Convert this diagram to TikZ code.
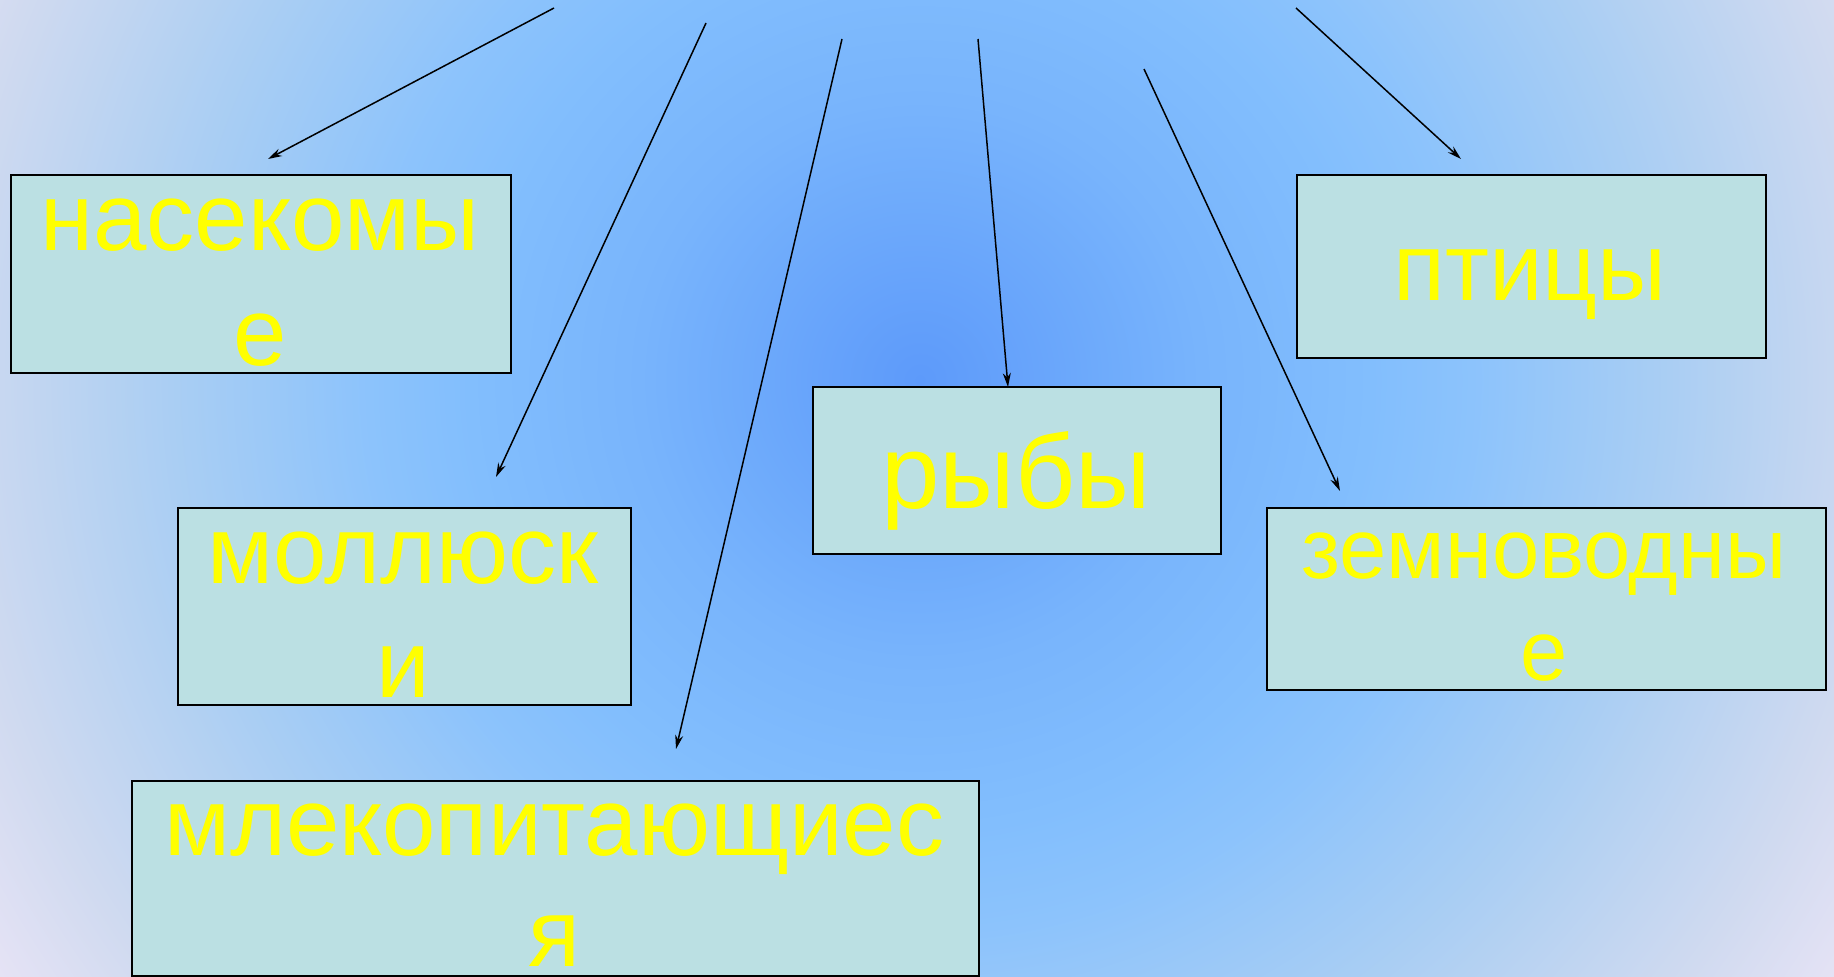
\documentclass[tikz,border=0pt]{standalone}
\usepackage{fontspec}
\setmainfont{Liberation Sans}
\usetikzlibrary{arrows.meta}
\definecolor{g0}{HTML}{5D9AFA}
\definecolor{g1}{HTML}{78B4FC}
\definecolor{g2}{HTML}{82BEFD}
\definecolor{g3}{HTML}{8CC3FC}
\definecolor{g4}{HTML}{AACEF3}
\definecolor{g5}{HTML}{D0DAF0}
\definecolor{g6}{HTML}{E6E3F5}
\definecolor{boxfill}{HTML}{BBE0E3}
\definecolor{txtyellow}{HTML}{FFFF00}
\pgfdeclareradialshading{bgshade}{\pgfpoint{0bp}{0bp}}{color(0bp)=(g0); color(6.1bp)=(g1); color(9.8bp)=(g2); color(12bp)=(g3); color(16.3bp)=(g4); color(21.1bp)=(g5); color(23.9bp)=(g6); color(25bp)=(g6); color(50bp)=(g6)}
\tikzset{
  animalbox/.style={draw=black, line width=2bp, fill=boxfill, inner sep=0pt, anchor=north west, rectangle},
  boxtext/.style={text=txtyellow, inner sep=0pt, anchor=base, font=\fontsize{96bp}{115bp}\selectfont},
  boxtextbig/.style={boxtext, font=\fontsize{105bp}{126bp}\selectfont},
  boxtextsmall/.style={boxtext, font=\fontsize{85bp}{102bp}\selectfont},
  arr/.style={draw=black, line width=1.5bp, -{Stealth[length=14bp,width=8bp]}}
}
\begin{document}
\begin{tikzpicture}[x=1bp,y=-1bp]
\useasboundingbox (0,0) rectangle (1834,976);
\begin{scope}
  \clip (0,0) rectangle (1834,976);
  \shade[shading=bgshade] (920,380) circle[radius=1150bp];
\end{scope}
\begin{scope}
  \clip (0,0) rectangle (1834,976);
  % boxes
  \node[animalbox, minimum width=500bp, minimum height=198bp] (nas) at (10,174) {};
  \node[animalbox, minimum width=469bp, minimum height=183bp] (ptic) at (1296,174) {};
  \node[animalbox, minimum width=408bp, minimum height=167bp] (ryby) at (812,386) {};
  \node[animalbox, minimum width=453bp, minimum height=197bp] (moll) at (177,507) {};
  \node[animalbox, minimum width=559bp, minimum height=182bp] (zem) at (1266,507) {};
  \node[animalbox, minimum width=847bp, minimum height=195bp] (mlek) at (131,780) {};
  % texts
  \node[boxtext] (nas-a) at (260,250) {насекомы};
  \node[boxtext] (nas-b) at (260,365) {е};
  \node[boxtext] (ptic-a) at (1530,300) {птицы};
  \node[boxtextbig] (ryby-a) at (1016,508) {рыбы};
  \node[boxtext] (moll-a) at (403,583) {моллюск};
  \node[boxtext] (moll-b) at (403,697) {и};
  \node[boxtextsmall] (zem-a) at (1544,578) {земноводны};
  \node[boxtextsmall] (zem-b) at (1544,680) {е};
  \node[boxtext] (mlek-a) at (554,855) {млекопитающиес};
  \node[boxtext] (mlek-b) at (554,966) {я};
\end{scope}
% arrow end points
\coordinate (s1) at (554,8);    \coordinate (e1) at (268,159);
\coordinate (s2) at (706,23);   \coordinate (e2) at (496,477);
\coordinate (s3) at (842,39);   \coordinate (e3) at (676,749);
\coordinate (s4) at (978,39);   \coordinate (e4) at (1008,387);
\coordinate (s5) at (1144,69);  \coordinate (e5) at (1340,491);
\coordinate (s6) at (1296,8);   \coordinate (e6) at (1461,159);
\draw[arr] (s1) -- (e1);
\draw[arr] (s2) -- (e2);
\draw[arr] (s3) -- (e3);
\draw[arr] (s4) -- (e4);
\draw[arr] (s5) -- (e5);
\draw[arr] (s6) -- (e6);
\end{tikzpicture}
\end{document}
